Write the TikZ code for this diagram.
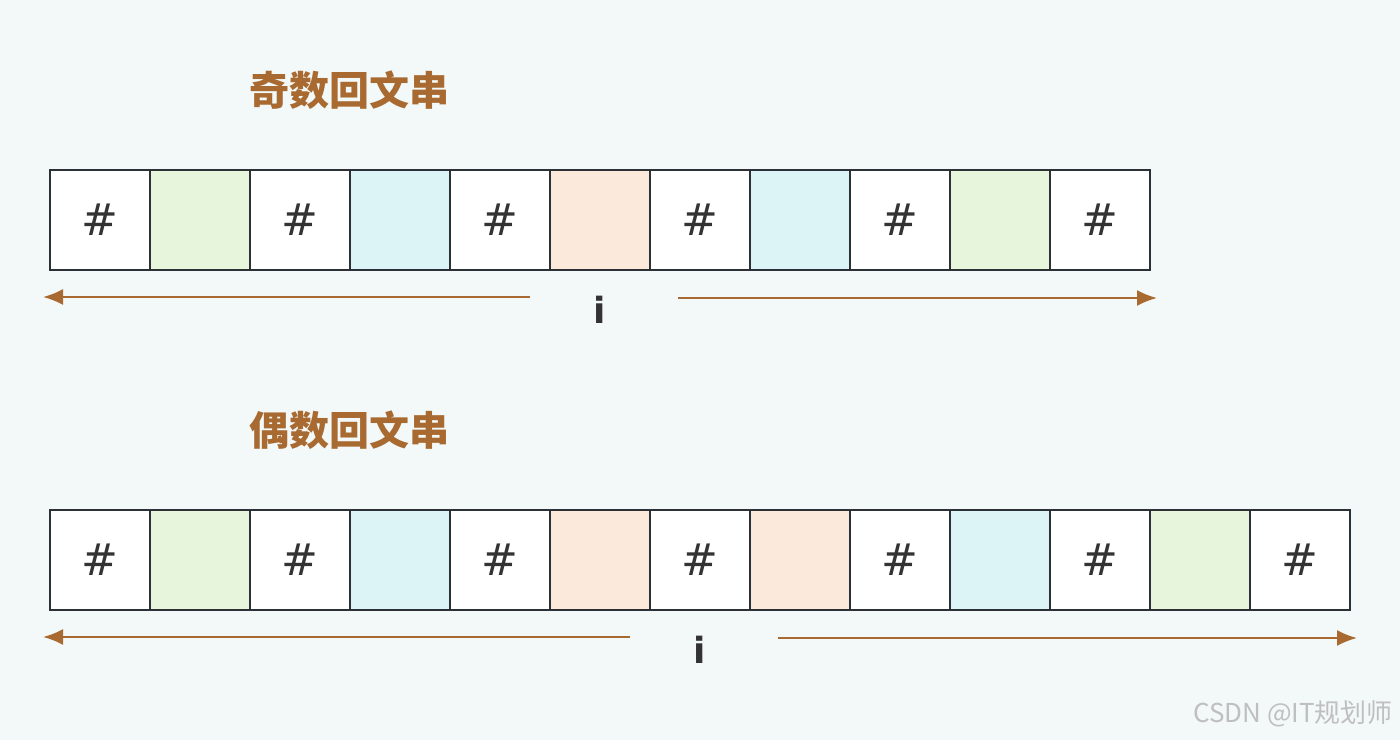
\documentclass[tikz,border=0pt]{standalone}
\usepackage{fontspec}
\setmainfont{DejaVu Sans}
\newfontfamily\cjk{Noto Sans CJK SC}
\usetikzlibrary{arrows.meta}
\begin{document}
\begin{tikzpicture}[x=0.5pt,y=-0.5pt,
  cell/.style={draw=bd, line width=1.3pt, minimum size=50pt, inner sep=0pt, outer sep=0pt, anchor=north west, font=\fontsize{22}{24}\selectfont, text=black!80},
  arr/.style={draw=brn, line width=1.1pt, -{Latex[length=10pt,width=8pt]}},
  ttl/.style={font=\cjk\bfseries\fontsize{20}{22}\selectfont, text=brn},
  ilab/.style={font=\bfseries\fontsize{18}{20}\selectfont, text=black!80}]
\definecolor{bg}{HTML}{F2F9F8}
\definecolor{brn}{HTML}{A86A30}
\definecolor{bd}{HTML}{2B3136}
\definecolor{cg}{HTML}{E6F5DC}
\definecolor{cb}{HTML}{DCF4F5}
\definecolor{cp}{HTML}{FBEADB}
\fill[bg] (0,0) rectangle (1400,740);
\useasboundingbox (0,0) rectangle (1400,740);
\node[ttl] (t1) at (349,90) {奇数回文串};
\node[ttl] (t2) at (349,430) {偶数回文串};
\foreach \c/\t [count=\k from 0] in {white/\#,cg/,white/\#,cb/,white/\#,cp/,white/\#,cb/,white/\#,cg/,white/\#}{
  \node[cell,fill=\c] (a\k) at (50+\k*100,170) {\t};}
\foreach \c/\t [count=\k from 0] in {white/\#,cg/,white/\#,cb/,white/\#,cp/,white/\#,cp/,white/\#,cb/,white/\#,cg/,white/\#}{
  \node[cell,fill=\c] (b\k) at (50+\k*100,510) {\t};}
\node[ilab] (i1) at (600,310) {i};
\node[ilab] (i2) at (700,650) {i};
\coordinate (l1s) at (530,297); \coordinate (l1e) at (43,297);
\coordinate (r1s) at (678,298); \coordinate (r1e) at (1157,298);
\coordinate (l2s) at (630,637); \coordinate (l2e) at (43,637);
\coordinate (r2s) at (778,638); \coordinate (r2e) at (1357,638);
\draw[arr] (l1s) -- (l1e);
\draw[arr] (r1s) -- (r1e);
\draw[arr] (l2s) -- (l2e);
\draw[arr] (r2s) -- (r2e);
\node[font=\cjk\fontsize{13}{15}\selectfont, text=black!25] (wm) at (1293,714) {CSDN @IT规划师};
\end{tikzpicture}
\end{document}
